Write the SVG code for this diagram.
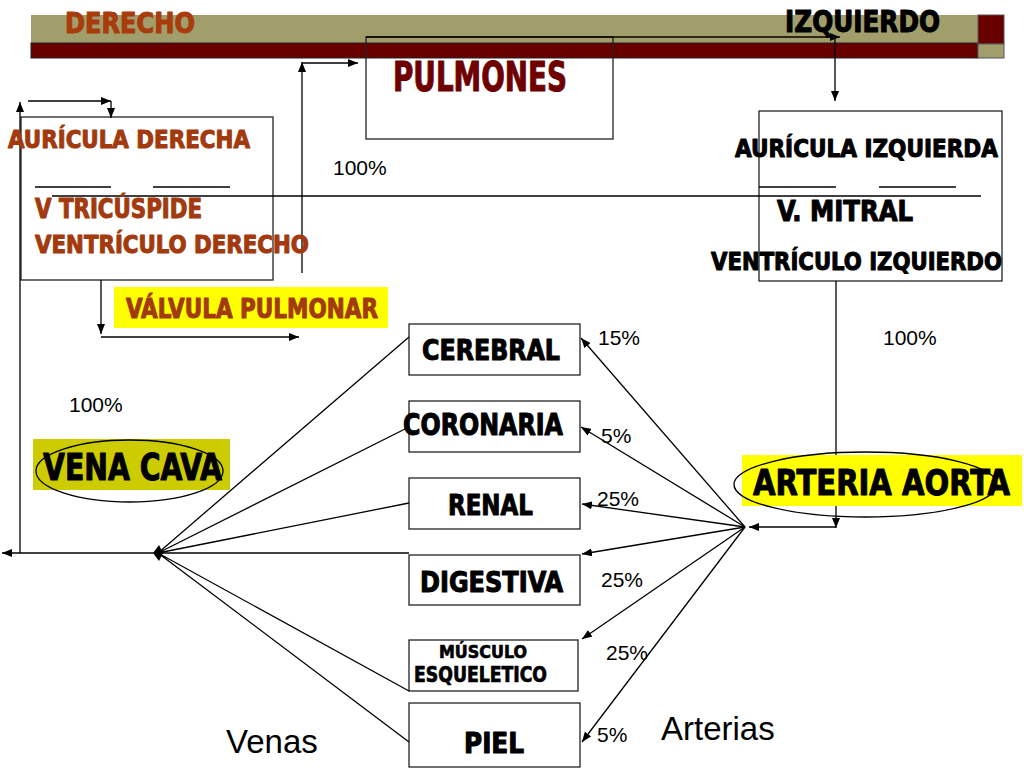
<svg xmlns="http://www.w3.org/2000/svg" width="1024" height="768" viewBox="0 0 1024 768">
<defs>
<marker id="ah" viewBox="0 0 10 8" refX="10" refY="4" markerWidth="10" markerHeight="8" markerUnits="userSpaceOnUse" orient="auto"><path d="M0,0 L10,4 L0,8 z" fill="#000"/></marker>
<style>
.box{fill:none;stroke:#222;stroke-width:1.3}
.ln{fill:none;stroke:#000;stroke-width:1.3}
.arr{fill:none;stroke:#000;stroke-width:1.3;marker-end:url(#ah)}
.deco{font-family:"DejaVu Sans Condensed","DejaVu Sans","Liberation Sans",sans-serif;font-weight:bold;fill:#000;stroke:#000;stroke-width:1;stroke-linejoin:round}
.brown{fill:#a23a0e;stroke:#a23a0e}
.maroon{fill:#6e0000;stroke:#6e0000}
.pct{font-family:"Liberation Sans",Arial,sans-serif;font-size:21px;fill:#000}
.big{font-family:"Liberation Sans",Arial,sans-serif;font-size:33px;fill:#000}
</style>
</defs>
<rect width="1024" height="768" fill="#fff"/>

<g id="banner">
<rect x="31" y="15" width="947" height="29" fill="#a29e6c"/>
<rect x="31" y="43" width="947" height="15" fill="#680000" stroke="#222" stroke-width="1"/>
<rect x="978" y="15" width="26" height="29" fill="#680000" stroke="#555" stroke-width="1"/>
<rect x="978" y="44" width="26" height="14" fill="#a29e6c" stroke="#555" stroke-width="1"/>
<text class="deco brown" x="65" y="33" font-size="29" textLength="130" lengthAdjust="spacingAndGlyphs" style="fill:#a83c0c;stroke:#a83c0c">DERECHO</text>
<text class="deco" x="785" y="32" font-size="30" textLength="155" lengthAdjust="spacingAndGlyphs">IZQUIERDO</text>
</g>

<g id="pulmones">
<rect class="box" x="366" y="37" width="247" height="102"/>
<text class="deco maroon" x="393" y="91" font-size="40" textLength="174" lengthAdjust="spacingAndGlyphs">PULMONES</text>
</g>

<g id="corazon-derecho">
<rect class="box" x="21" y="117" width="252" height="163"/>
</g>

<g id="corazon-izquierdo">
<rect class="box" x="759" y="111" width="243" height="170"/>
</g>

<g id="organos">
<g id="cerebral"><rect class="box" x="409" y="324" width="171" height="51"/></g>
<g id="coronaria"><rect class="box" x="409" y="401" width="171" height="51"/></g>
<g id="renal"><rect class="box" x="409" y="478" width="171" height="51"/></g>
<g id="digestiva"><rect class="box" x="409" y="555" width="171" height="50"/></g>
<g id="musculo"><rect class="box" x="409" y="640" width="169" height="51"/></g>
<g id="piel"><rect class="box" x="409" y="703" width="171" height="64"/></g>
</g>

<g id="connectors">
<path class="ln" d="M366,37 H835"/>
<path class="arr" d="M826,37 H840"/>
<path class="arr" d="M835,37 V101"/>
<path class="arr" d="M836,281 V528"/>
<path class="arr" d="M836,527 H749"/>
<path class="arr" d="M745,527 L581,338"/>
<path class="arr" d="M745,527 L581,427"/>
<path class="arr" d="M745,527 L582,504"/>
<path class="arr" d="M745,527 L582,554"/>
<path class="arr" d="M745,527 L582,639"/>
<path class="arr" d="M745,527 L582,742"/>
<path class="ln" d="M409,337 L158,553 M409,427 L158,553 M409,503 L158,553 M409,691 L158,553 M409,742 L158,553"/>
<path class="arr" d="M409,553 H2"/>
<polygon points="153,553 159,545 163,553 159,561" fill="#000"/>
<path class="arr" d="M20,553 V102"/>
<path class="arr" d="M28,101 H111"/>
<path class="arr" d="M111,101 V118"/>
<path class="ln" d="M52,196 H981"/>
<path class="ln" d="M35,187 H111 M153,187 H230 M759,187 H836 M879,187 H956"/>
<path class="arr" d="M302,273 V62"/>
<path class="arr" d="M302,63 H358"/>
<path class="arr" d="M101,280 V334"/>
<path class="arr" d="M101,337 H299"/>
</g>

<g id="textos-derecho">
<text class="deco brown" x="8" y="148" font-size="25" textLength="242" lengthAdjust="spacingAndGlyphs">AURÍCULA DERECHA</text>
<text class="deco brown" x="35" y="218" font-size="26" textLength="167" lengthAdjust="spacingAndGlyphs">V TRICÚSPIDE</text>
<text class="deco brown" x="35" y="253" font-size="25" textLength="274" lengthAdjust="spacingAndGlyphs">VENTRÍCULO DERECHO</text>
</g>

<g id="valvula-pulmonar">
<rect x="114" y="287" width="274" height="41" fill="#ffff00"/>
<text class="deco brown" x="126" y="318" font-size="27" textLength="252" lengthAdjust="spacingAndGlyphs">VÁLVULA PULMONAR</text>
</g>

<g id="textos-izquierdo">
<text class="deco" x="735" y="157" font-size="25" textLength="263" lengthAdjust="spacingAndGlyphs">AURÍCULA IZQUIERDA</text>
<text class="deco" x="777" y="221" font-size="28" textLength="136" lengthAdjust="spacingAndGlyphs">V. MITRAL</text>
<text class="deco" x="711" y="270" font-size="25" textLength="291" lengthAdjust="spacingAndGlyphs">VENTRÍCULO IZQUIERDO</text>
</g>

<g id="vena-cava">
<rect x="33" y="439" width="197" height="51" fill="#cccc00"/>
<ellipse cx="129.5" cy="471" rx="93.5" ry="31" fill="none" stroke="#000" stroke-width="1.3"/>
<text class="deco" x="43" y="480" font-size="38" textLength="179" lengthAdjust="spacingAndGlyphs">VENA CAVA</text>
</g>

<g id="arteria-aorta">
<rect x="742" y="455" width="280" height="51" fill="#ffff00"/>
<ellipse cx="865.5" cy="484.5" rx="131.5" ry="32.5" fill="none" stroke="#000" stroke-width="1.3"/>
<text class="deco" x="753" y="495" font-size="36" textLength="257" lengthAdjust="spacingAndGlyphs">ARTERIA AORTA</text>
</g>

<g id="organ-labels">
<text class="deco" x="422" y="360" font-size="29" textLength="138" lengthAdjust="spacingAndGlyphs">CEREBRAL</text>
<text class="deco" x="403" y="435" font-size="30" textLength="160" lengthAdjust="spacingAndGlyphs">CORONARIA</text>
<text class="deco" x="448" y="515" font-size="29" textLength="85" lengthAdjust="spacingAndGlyphs">RENAL</text>
<text class="deco" x="420" y="592" font-size="29" textLength="143" lengthAdjust="spacingAndGlyphs">DIGESTIVA</text>
<text class="deco" x="439" y="658" font-size="17" textLength="88" lengthAdjust="spacingAndGlyphs" style="stroke-width:0.6">MÚSCULO</text>
<text class="deco" x="414" y="682" font-size="21" textLength="133" lengthAdjust="spacingAndGlyphs" style="stroke-width:0.7">ESQUELETICO</text>
<text class="deco" x="464" y="753" font-size="28" textLength="60" lengthAdjust="spacingAndGlyphs">PIEL</text>
</g>

<g id="porcentajes">
<text class="pct" x="333" y="175">100%</text>
<text class="pct" x="883" y="345">100%</text>
<text class="pct" x="69" y="412">100%</text>
<text class="pct" x="598" y="345">15%</text>
<text class="pct" x="601" y="443">5%</text>
<text class="pct" x="597" y="506">25%</text>
<text class="pct" x="601" y="587">25%</text>
<text class="pct" x="606" y="660">25%</text>
<text class="pct" x="597" y="742">5%</text>
<text class="big" x="661" y="740">Arterias</text>
<text class="big" x="226" y="753">Venas</text>
</g>
</svg>
